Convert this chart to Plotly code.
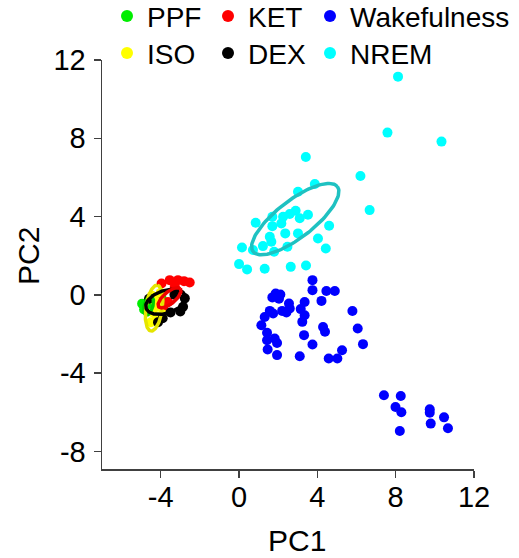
import numpy as np
import plotly.graph_objects as go

# ---------------- data ----------------
groups = ["PPF", "KET", "Wakefulness", "ISO", "DEX", "NREM"]
colors = {"PPF": "#00EE00", "KET": "#FF0000", "Wakefulness": "#0000FF",
          "ISO": "#FFFF00", "DEX": "#000000", "NREM": "#00FFFF"}
ellipse_colors = {"PPF": "#00CD00", "KET": "#EE0000", "ISO": "#E5E500",
                  "DEX": "#000000", "NREM": "#1FC1C1"}

ppf_x = [-4.95, -4.85, -4.70, -4.60, -4.50, -4.35, -3.95, -3.85]
ppf_y = [-0.45, -0.75, -0.60, -0.35, -0.80, -0.50, -0.20, -0.45]

ket_x = [-3.96, -3.54, -3.12, -2.81, -2.52, -4.22, -3.88, -3.63, -3.20, -3.28]
ket_y = [0.58, 0.75, 0.75, 0.70, 0.63, -0.36, -0.70, -0.36, 0.15, 0.41]

iso_x = [-4.50, -4.20, -4.40, -4.10, -4.30, -4.00, -4.45, -3.90]
iso_y = [-1.40, -1.20, -0.90, -0.60, -0.30, 0.10, -0.05, -1.00]

dex_x = [-2.77, -2.86, -3.00, -4.14, -3.90, -4.60, -3.50, -3.30]
dex_y = [-0.18, -0.61, -0.85, -1.40, -1.20, -0.20, -0.90, 0.00]

wake_x = [3.75, 3.75, 4.46, 4.89, 4.21, 1.87, 2.11, 1.70, 2.04, 3.35, 2.55, 2.59,
          2.20, 2.42, 3.15, 1.57, 1.74, 1.31, 3.35, 3.23, 5.79, 1.14, 4.29, 4.39,
          6.06, 1.43, 3.32, 1.82, 1.43, 1.94, 3.75, 6.33, 1.46, 5.26, 1.94, 3.10,
          4.58, 5.02,
          7.40, 8.26, 7.99, 8.29, 9.74, 9.74, 10.47, 9.79, 10.67, 8.21]
wake_y = [0.75, 0.24, 0.20, 0.20, -0.31, 0.07, 0.02, -0.13, -0.20, -0.37, -0.44, -0.70,
          -0.82, -0.90, -0.73, -0.82, -0.95, -1.13, -1.04, -1.38, -0.83, -1.55, -1.64, -1.89,
          -1.72, -1.94, -2.06, -2.23, -2.32, -2.46, -2.54, -2.52, -2.79, -2.83, -3.08, -3.14,
          -3.25, -3.25,
          -5.13, -5.17, -5.73, -6.00, -5.85, -6.02, -6.26, -6.58, -6.82, -6.96]

nrem_x = [8.12, 7.58, 10.34, 3.41, 6.20, 6.67, 3.87, 3.01, 4.60, 3.52, 2.89, 2.59,
          2.25, 3.10, 2.16, 1.70, 1.70, 0.85, 2.36, 3.01, 4.03, 1.57, 1.65, 1.22,
          0.15, 0.71, 1.79, 2.47, 4.43, 0.00, 0.41, 1.31, 2.64, 3.42]
nrem_y = [11.15, 8.29, 7.83, 7.04, 6.07, 4.33, 5.66, 5.27, 3.53, 4.09, 4.30, 4.13,
          3.99, 3.91, 3.65, 3.99, 3.51, 3.68, 3.14, 3.14, 2.88, 2.97, 2.71, 2.49,
          2.42, 2.29, 2.20, 2.46, 2.37, 1.57, 1.30, 1.33, 1.43, 1.50]

# ellipse parameters: centre x, centre y, semi-axis a, semi-axis b, angle (deg)
ell_ppf = [-4.62, -0.55, 0.50, 0.22, 75]
ell_iso = [-4.34, -0.68, 1.18, 0.42, 82]
ell_dex = [-3.75, -0.36, 1.05, 0.58, 18]
ell_ket = [-3.55, -0.15, 0.72, 0.30, 40]
ell_nrem = [2.87, 3.87, 2.72, 0.95, 37.7]

tick_vals_x = [-4, 0, 4, 8, 12]
tick_text_x = ["-4", "0", "4", "8", "12"]
tick_vals_y = [-8, -4, 0, 4, 8, 12]
tick_text_y = ["-8", "-4", "0", "4", "8", "12"]

# legend layout: 2 rows x 3 columns as in the reference
legend_rows = [["PPF", "KET", "Wakefulness"], ["ISO", "DEX", "NREM"]]

FONT = "Liberation Sans, Arial, sans-serif"
W, H = 519, 558
ML, MR, MT, MB = 102, 45, 60, 89
PW, PH = W - ML - MR, H - MT - MB


def px_to_paper(px, py):
    return (px - ML) / PW, (H - MB - py) / PH


def ellipse(p, n=120):
    cx, cy, a, b, ang = p
    t = np.linspace(0, 2 * np.pi, n)
    th = np.deg2rad(ang)
    ex = cx + a * np.cos(t) * np.cos(th) - b * np.sin(t) * np.sin(th)
    ey = cy + a * np.cos(t) * np.sin(th) + b * np.sin(t) * np.cos(th)
    return ex, ey


fig = go.Figure()

pts = {"PPF": (ppf_x, ppf_y), "KET": (ket_x, ket_y), "Wakefulness": (wake_x, wake_y),
       "ISO": (iso_x, iso_y), "DEX": (dex_x, dex_y), "NREM": (nrem_x, nrem_y)}

for g in groups:
    x, y = pts[g]
    fig.add_trace(go.Scatter(x=x, y=y, mode="markers", name=g,
                             marker=dict(color=colors[g], size=10, line=dict(width=0)),
                             showlegend=False))

for g, p in [("PPF", ell_ppf), ("ISO", ell_iso), ("DEX", ell_dex), ("KET", ell_ket), ("NREM", ell_nrem)]:
    ex, ey = ellipse(p)
    fig.add_trace(go.Scatter(x=ex, y=ey, mode="lines", showlegend=False,
                             line=dict(color=ellipse_colors[g], width=3.5), hoverinfo="skip"))

# legend (keys + text, so that it can sit in the top margin unclipped)
col_dot_px = [127, 228, 330]
row_y_px = [16, 53]
annotations = []
shapes = []
for r, row in enumerate(legend_rows):
    for c, g in enumerate(row):
        xd, yd = px_to_paper(col_dot_px[c], row_y_px[r])
        xt, yt = px_to_paper(col_dot_px[c] + 18, row_y_px[r] + 1)
        shapes.append(dict(type="circle", xref="paper", yref="paper", xsizemode="pixel",
                           ysizemode="pixel", xanchor=xd, yanchor=yd, x0=-6, x1=6, y0=-6, y1=6,
                           fillcolor=colors[g], line=dict(width=0)))
        annotations.append(dict(text=g, xref="paper", yref="paper", x=xt, y=yt,
                                xanchor="left", yanchor="middle", showarrow=False,
                                font=dict(size=28, family=FONT, color="black")))

# axis titles
x1, y1 = px_to_paper(297, 540)
annotations.append(dict(text="PC1", xref="paper", yref="paper", x=x1, y=y1, xanchor="center",
                        yanchor="middle", showarrow=False, font=dict(size=30, family=FONT)))
x2, y2 = px_to_paper(28, 256)
annotations.append(dict(text="PC2", xref="paper", yref="paper", x=x2, y=y2, xanchor="center",
                        yanchor="middle", textangle=-90, showarrow=False,
                        font=dict(size=30, family=FONT)))

axis_common = dict(showgrid=False, zeroline=False, showline=True, linecolor="#404040",
                   linewidth=1.5, ticks="outside", ticklen=7, tickwidth=1.5,
                   tickcolor="#404040", tickfont=dict(size=29, color="black", family=FONT),
                   automargin=False)

fig.update_layout(
    width=W, height=H,
    margin=dict(l=ML, r=MR, t=MT, b=MB, autoexpand=False),
    paper_bgcolor="white", plot_bgcolor="white",
    font=dict(family=FONT, color="black"),
    xaxis=dict(range=[-7.0, 12.0], tickvals=tick_vals_x, ticktext=tick_text_x,
               ticklabelstandoff=-5, **axis_common),
    yaxis=dict(range=[-8.9, 12.0], tickvals=tick_vals_y, ticktext=tick_text_y,
               ticklabelstandoff=2, **axis_common),
    annotations=annotations,
    shapes=shapes,
    showlegend=False,
    hovermode=False,
)

fig.write_html("out.html", config={"displayModeBar": False, "staticPlot": True},
               post_script="document.body.style.margin='0px';document.body.style.overflow='hidden';")
